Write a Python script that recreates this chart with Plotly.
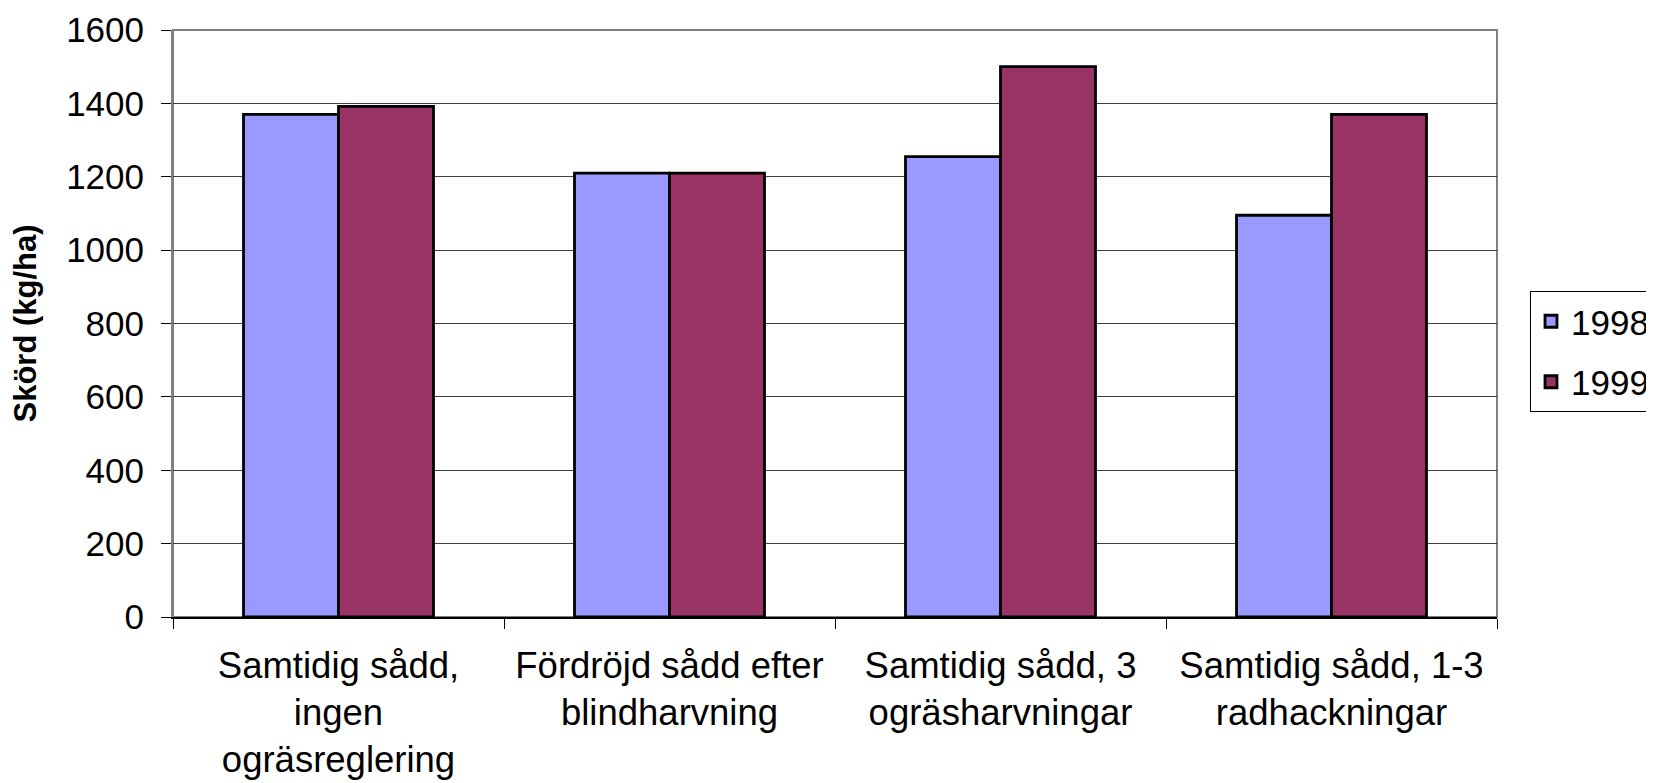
import plotly.graph_objects as go

categories = [
    "Samtidig sådd,<br>ingen<br>ogräsreglering",
    "Fördröjd sådd efter<br>blindharvning",
    "Samtidig sådd, 3<br>ogräsharvningar",
    "Samtidig sådd, 1-3<br>radhackningar",
]
values_1998 = [1370, 1210, 1255, 1095]
values_1999 = [1392, 1210, 1500, 1370]
series_names = ["1998", "1999"]
y_ticks = [0, 200, 400, 600, 800, 1000, 1200, 1400, 1600]

FONT = "Liberation Sans, Arial, sans-serif"

fig = go.Figure()
fig.add_trace(go.Bar(
    x=categories, y=values_1998, name=series_names[0], legendgroup="a",
    marker=dict(color="#9999FF", line=dict(color="black", width=2.8)),
))
fig.add_trace(go.Bar(
    x=categories, y=values_1999, name=series_names[1], legendgroup="b",
    marker=dict(color="#993366", line=dict(color="black", width=2.8)),
))

# page has an 8px body margin, so the figure is offset by 8px
W, H = 1646, 775
L, R, T, B = 165, 157, 22, 166

fig.update_layout(
    width=W, height=H,
    margin=dict(l=L, r=R, t=T, b=B, autoexpand=False),
    paper_bgcolor="white", plot_bgcolor="white",
    barmode="group", bargap=0.426, bargroupgap=0,
    font=dict(family=FONT, color="black", size=35),
    legend=dict(
        x=(1522 - L) / (W - L - R), xanchor="left",
        y=(609 - 283) / (609 - 22), yanchor="top",
        bordercolor="black", borderwidth=1, bgcolor="white",
        font=dict(size=35, family=FONT), tracegroupgap=12,
    ),
    showlegend=True,
)
fig.update_yaxes(
    range=[0, 1600], tickvals=y_ticks,
    showgrid=True, gridcolor="#404040", gridwidth=1,
    showline=True, linecolor="#808080", linewidth=2,
    ticks="outside", ticklen=10, tickcolor="black", tickwidth=1,
    ticklabelstandoff=10,
    tickfont=dict(size=35, family=FONT),
    zeroline=False,
    title=dict(text="<b>Skörd (kg/ha)</b>", font=dict(size=31, family=FONT), standoff=26),
)
fig.update_xaxes(
    showline=True, linecolor="black", linewidth=1.5,
    ticks="outside", ticklen=10, tickcolor="black", tickwidth=1,
    tickson="boundaries",
    ticklabelstandoff=15,
    tickfont=dict(size=36.5, family=FONT),
    showgrid=False,
)
fig.add_shape(type="rect", xref="paper", yref="paper", x0=0, x1=1, y0=0, y1=1,
              line=dict(color="#808080", width=2), layer="below")

fig.write_html("out.html")
